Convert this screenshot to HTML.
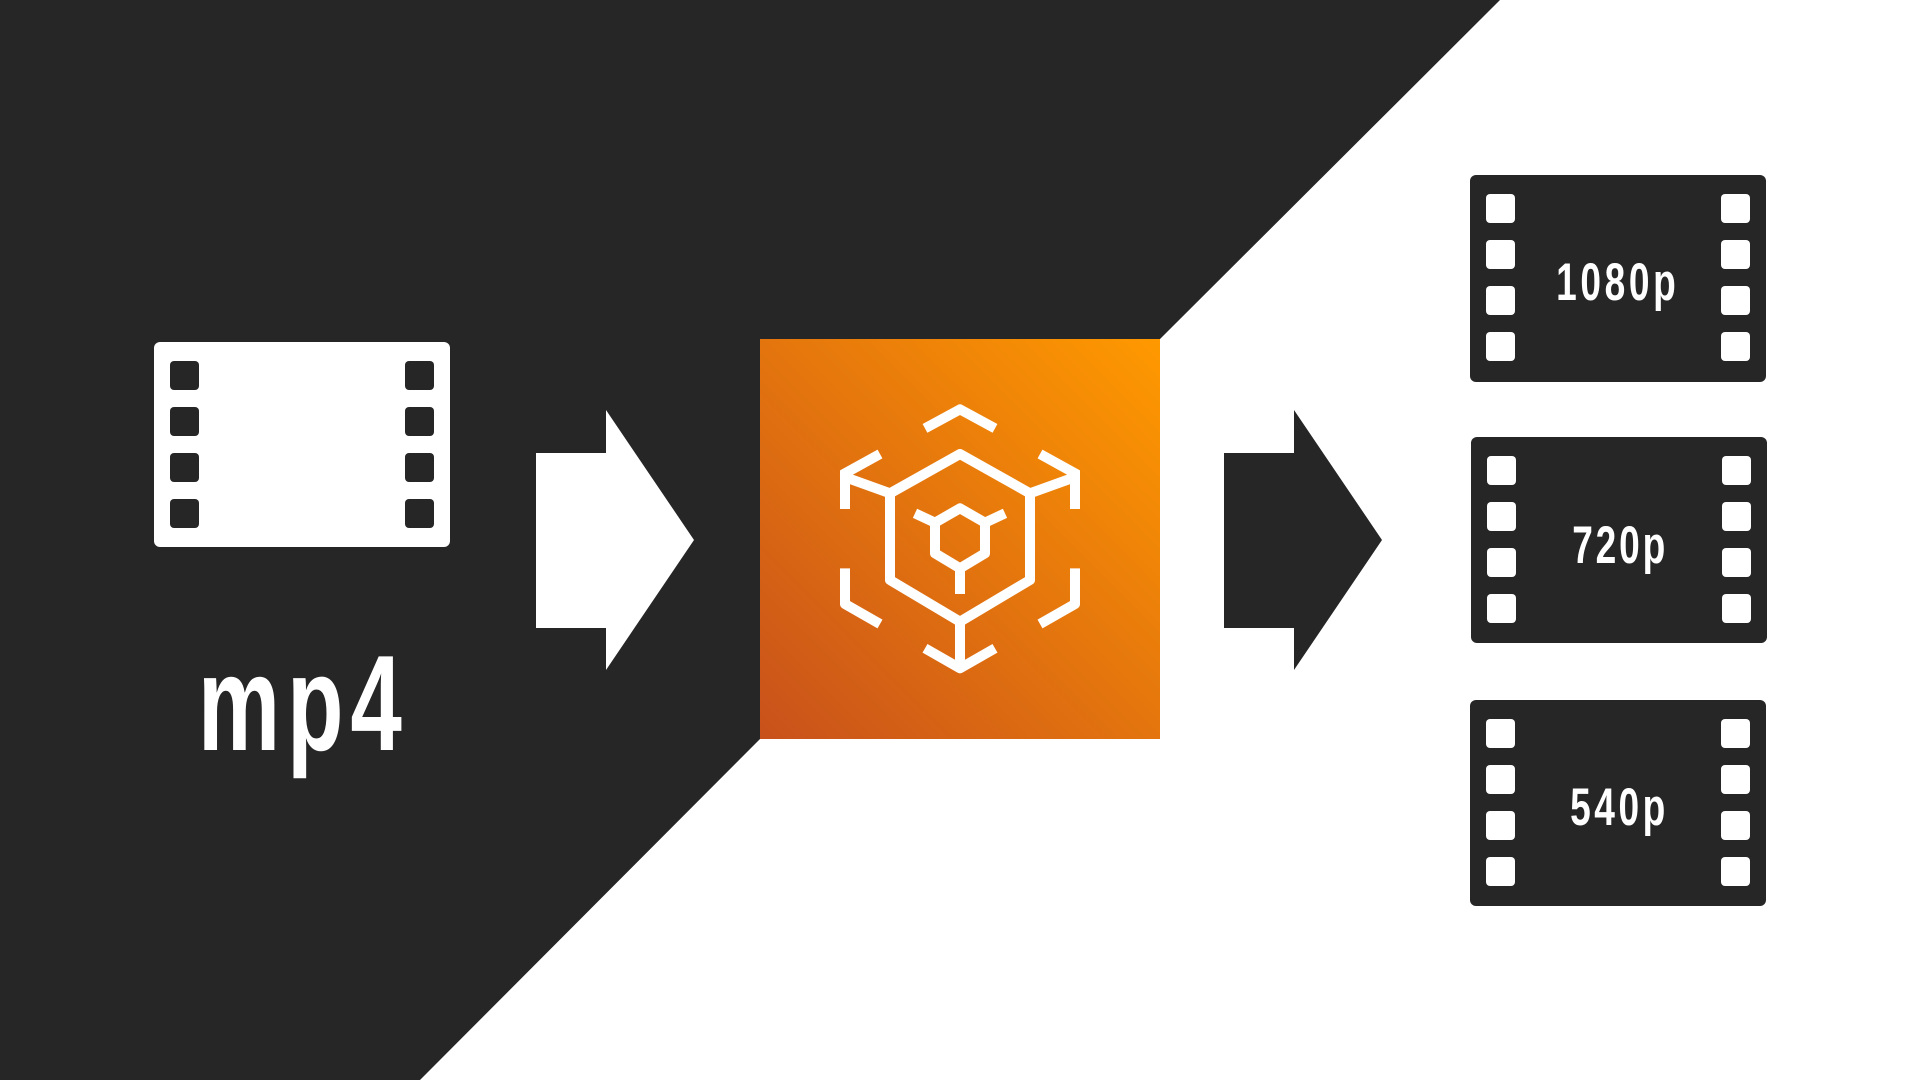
<!DOCTYPE html>
<html><head><meta charset="utf-8"><style>html,body{margin:0;padding:0;background:#fff}svg{display:block}</style></head>
<body>
<svg width="1920" height="1080" viewBox="0 0 1920 1080" xmlns="http://www.w3.org/2000/svg">
<defs>
<linearGradient id="g" x1="0" y1="1" x2="1" y2="0">
<stop offset="0" stop-color="#c8511b"/><stop offset="1" stop-color="#ff9900"/>
</linearGradient>
<g id="holes">
<rect x="16" y="19" width="29" height="29" rx="4"/><rect x="16" y="65" width="29" height="29" rx="4"/>
<rect x="16" y="111" width="29" height="29" rx="4"/><rect x="16" y="157" width="29" height="29" rx="4"/>
<rect x="251" y="19" width="29" height="29" rx="4"/><rect x="251" y="65" width="29" height="29" rx="4"/>
<rect x="251" y="111" width="29" height="29" rx="4"/><rect x="251" y="157" width="29" height="29" rx="4"/>
</g>
</defs>
<polygon points="0,0 1500,0 1160,339 760,739 420,1080 0,1080" fill="#262626"/>
<g transform="translate(154,342)">
<rect width="296" height="205" rx="6" fill="#fff"/>
<use href="#holes" fill="#262626"/>
</g>
<text transform="scale(0.68,1)" x="291" y="750" font-family="Liberation Sans, sans-serif" font-weight="bold" font-size="136" fill="#fff" textLength="300" lengthAdjust="spacing">mp4</text>
<polygon points="536,453 606,453 606,410 694,540 606,670 606,628 536,628" fill="#fff"/>
<rect x="760" y="339" width="400" height="400" fill="url(#g)"/>
<g transform="translate(700,300) scale(0.33333)" fill="none" stroke="#fff" stroke-width="30" stroke-linejoin="round">
<polyline points="675,385 780,328 885,385"/>
<polygon points="570,580 780,462 990,580 990,840 780,965 570,840"/>
<polyline points="540,462 435,520 435,627" stroke-linejoin="miter"/>
<line x1="445" y1="535" x2="570" y2="580"/>
<polyline points="1020,462 1125,520 1125,627" stroke-linejoin="miter"/>
<line x1="1115" y1="535" x2="990" y2="580"/>
<polyline points="435,805 435,912 540,972"/>
<polyline points="1125,805 1125,912 1020,972"/>
<line x1="780" y1="965" x2="780" y2="1095"/>
<polyline points="675,1045 780,1105 885,1045"/>
<polygon points="705,668 780,625 855,668 855,760 780,805 705,760"/>
<line x1="780" y1="805" x2="780" y2="882"/>
<line x1="645" y1="640" x2="705" y2="668"/>
<line x1="915" y1="640" x2="855" y2="668"/>
</g>
<polygon points="1224,453 1294,453 1294,410 1382,540 1294,670 1294,628 1224,628" fill="#262626"/>
<g transform="translate(1470,175)"><rect width="296" height="207" rx="6" fill="#262626"/><use href="#holes" fill="#fff"/></g>
<g transform="translate(1471,437)"><rect width="296" height="206" rx="6" fill="#262626"/><use href="#holes" fill="#fff"/></g>
<g transform="translate(1470,700)"><rect width="296" height="206" rx="6" fill="#262626"/><use href="#holes" fill="#fff"/></g>
<g font-family="Liberation Sans, sans-serif" font-weight="bold" font-size="53" fill="#fff" transform="scale(0.7,1)">
<text x="2223" y="300" textLength="171" lengthAdjust="spacing">1080p</text>
<text x="2246" y="563" textLength="133" lengthAdjust="spacing">720p</text>
<text x="2243" y="825" textLength="136" lengthAdjust="spacing">540p</text>
</g>
</svg>
</body></html>
